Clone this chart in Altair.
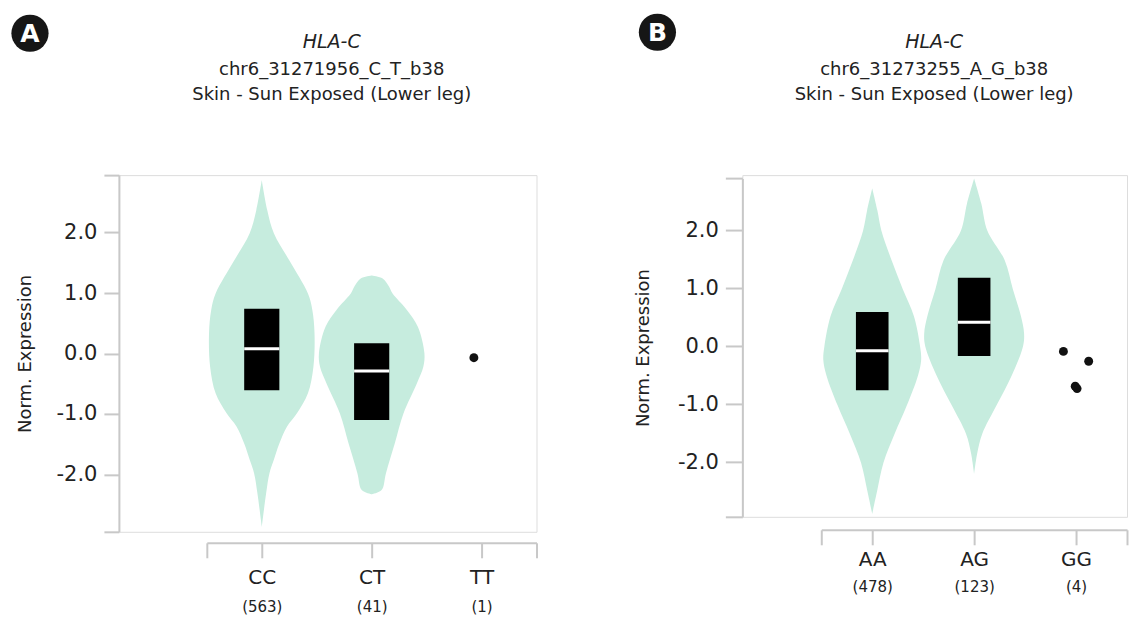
import json
import altair as alt
import pandas as pd

FONT = "DejaVu Sans"
GRAY = "#c8c8c8"
MINT = "#c6ecde"
INK = "#222222"
BOX_HALF = 0.16

gene = "HLA-C"
tissue = "Skin - Sun Exposed (Lower leg)"

# ---------------- Panel A ----------------
a_variant = "chr6_31271956_C_T_b38"
a_genotypes = ["CC", "CT", "TT"]
a_counts = ["(563)", "(41)", "(1)"]
# violin outlines: expression level and half-width (share of category step)
a_cc_level = [2.87, 2.37, 1.99, 1.54, 0.99, 0.72, 0.33, -0.22, -0.66, -0.99, -1.21, -1.49, -1.76, -1.98, -2.31, -2.87]
a_cc_half = [0.0, 0.05, 0.11, 0.25, 0.42, 0.46, 0.48, 0.47, 0.42, 0.32, 0.23, 0.16, 0.11, 0.07, 0.04, 0.0]
a_ct_level = [1.29, 1.24, 1.10, 0.99, 0.72, 0.44, 0.0, -0.22, -0.50, -0.99, -1.49, -1.98, -2.26, -2.33]
a_ct_half = [0.0, 0.10, 0.16, 0.19, 0.32, 0.42, 0.48, 0.47, 0.41, 0.29, 0.21, 0.13, 0.09, 0.0]
# box summaries (CC, CT)
a_box_geno = [0, 1]
a_q1 = [-0.61, -1.10]
a_median = [0.08, -0.29]
a_q3 = [0.74, 0.17]
# single samples (TT)
a_pt_geno = [2]
a_pt_jitter = [-0.07]
a_pt_value = [-0.07]

# ---------------- Panel B ----------------
b_variant = "chr6_31273255_A_G_b38"
b_genotypes = ["AA", "AG", "GG"]
b_counts = ["(478)", "(123)", "(4)"]
b_aa_level = [2.72, 2.34, 1.99, 1.48, 0.98, 0.51, -0.01, -0.24, -0.50, -1.02, -1.51, -2.01, -2.48, -2.89]
b_aa_half = [0.0, 0.05, 0.09, 0.19, 0.30, 0.41, 0.47, 0.48, 0.45, 0.34, 0.22, 0.11, 0.05, 0.0]
b_ag_level = [2.89, 2.46, 1.99, 1.48, 0.98, 0.51, 0.22, 0.0, -0.50, -1.02, -1.51, -1.85, -2.20]
b_ag_half = [0.0, 0.07, 0.13, 0.30, 0.38, 0.46, 0.49, 0.48, 0.37, 0.22, 0.08, 0.03, 0.0]
b_box_geno = [0, 1]
b_q1 = [-0.76, -0.17]
b_median = [-0.08, 0.41]
b_q3 = [0.59, 1.18]
b_pt_geno = [2, 2, 2, 2]
b_pt_jitter = [-0.124, 0.124, -0.008, 0.01]
b_pt_value = [-0.09, -0.26, -0.69, -0.73]


def violin_frame(profiles):
    rows = []
    for geno, levels, halves in profiles:
        for lv, hw in zip(levels, halves):
            rows.append({"geno": geno, "level": lv, "half": hw})
    return pd.DataFrame(rows)


def panel(letter, variant, genotypes, counts, profiles, box_geno, q1, med, q3,
          pt_geno, pt_jit, pt_val, width, height, x_range, y_range, y_domain, x_offset,
          geno_pad, count_pad, ytick, title_pad, badge_xy, title_x, title_y):
    xscale = alt.Scale(domain=[-0.5, 2.5], range=x_range, nice=False, zero=False)
    yscale = alt.Scale(domain=y_domain, range=y_range, nice=False, zero=False)

    geno_axis = alt.Axis(
        orient="bottom", values=[-0.5, 0, 1, 2, 2.5],
        labelExpr=f"{json.dumps(genotypes)}[datum.value] || ''",
        offset=x_offset, tickSize=15, tickWidth=2, tickColor=GRAY,
        domainColor=GRAY, domainWidth=2, labelFontSize=20, labelColor=INK,
        labelPadding=geno_pad, labelFlush=False, labelOverlap=False,
        grid=False, title=None)
    count_axis = alt.Axis(
        orient="bottom", values=[0, 1, 2],
        labelExpr=f"{json.dumps(counts)}[datum.value] || ''",
        offset=x_offset, domain=False, ticks=False, tickSize=0,
        labelFontSize=15, labelColor=INK, labelPadding=count_pad,
        labelFlush=False, labelOverlap=False, grid=False, title=None)
    y_axis = alt.Axis(
        orient="left",
        values=[y_domain[0], -2, -1, 0, 1, 2, y_domain[1]],
        labelExpr="abs(datum.value) > 2.5 ? '' : replace(format(datum.value, '.1f'), '\u2212', '-')",
        tickSize=ytick, tickWidth=2, tickColor=GRAY, domainColor=GRAY,
        domainWidth=2, labelFontSize=21, labelColor=INK, labelPadding=7,
        labelFlush=False, labelOverlap=False, grid=False,
        title="Norm. Expression", titleFontSize=18, titleFontWeight="normal",
        titleColor=INK, titlePadding=title_pad)

    vdf = violin_frame(profiles)
    violins = alt.Chart(vdf).transform_calculate(
        lo="datum.geno - datum.half", hi="datum.geno + datum.half"
    ).mark_area(orient="horizontal", interpolate="catmull-rom", color=MINT, opacity=1).encode(
        y=alt.Y("level:Q", scale=yscale, axis=y_axis),
        x=alt.X("lo:Q", scale=xscale, axis=geno_axis),
        x2="hi:Q",
        detail="geno:N",
    )

    bdf = pd.DataFrame({"geno": box_geno, "q1": q1, "med": med, "q3": q3})
    boxes = alt.Chart(bdf).transform_calculate(
        lo=f"datum.geno - {BOX_HALF}", hi=f"datum.geno + {BOX_HALF}"
    ).mark_rect(color="black").encode(
        x=alt.X("lo:Q", axis=None), x2="hi:Q",
        y=alt.Y("q1:Q", axis=y_axis), y2="q3:Q")
    medians = alt.Chart(bdf).transform_calculate(
        lo=f"datum.geno - {BOX_HALF}", hi=f"datum.geno + {BOX_HALF}"
    ).mark_rule(color="white", strokeWidth=3).encode(
        x=alt.X("lo:Q", axis=None), x2="hi:Q",
        y=alt.Y("med:Q", axis=y_axis))

    pdf = pd.DataFrame({"geno": pt_geno, "jit": pt_jit, "value": pt_val})
    points = alt.Chart(pdf).transform_calculate(
        xp="datum.geno + datum.jit"
    ).mark_circle(size=80, color="#111111", opacity=1).encode(
        x=alt.X("xp:Q", axis=count_axis),
        y=alt.Y("value:Q", axis=y_axis))

    badge_df = pd.DataFrame({"letter": [letter]})
    badge = alt.Chart(badge_df).mark_circle(size=1385, color="#161616", opacity=1).encode(
        x=alt.value(badge_xy[0]), y=alt.value(badge_xy[1]))
    badge_txt = alt.Chart(badge_df).mark_text(
        fontSize=25, fontWeight="bold", color="white", align="center", baseline="middle",
        font=FONT).encode(x=alt.value(badge_xy[0]), y=alt.value(badge_xy[1] + 1), text="letter:N")

    t1 = alt.Chart(pd.DataFrame({"t": [gene]})).mark_text(
        fontSize=19, fontStyle="italic", color=INK, align="center", baseline="alphabetic",
        font=FONT).encode(x=alt.value(title_x), y=alt.value(title_y[0]), text="t:N")
    t2 = alt.Chart(pd.DataFrame({"t": [variant]})).mark_text(
        fontSize=18, color=INK, align="center", baseline="alphabetic",
        font=FONT).encode(x=alt.value(title_x), y=alt.value(title_y[1]), text="t:N")
    t3 = alt.Chart(pd.DataFrame({"t": [tissue]})).mark_text(
        fontSize=18, color=INK, align="center", baseline="alphabetic",
        font=FONT).encode(x=alt.value(title_x), y=alt.value(title_y[2]), text="t:N")

    return alt.layer(violins, boxes, medians, points, badge, badge_txt, t1, t2, t3).resolve_axis(
        x="independent").properties(width=width, height=height)


panel_a = panel(
    "A", a_variant, a_genotypes, a_counts,
    [(0, a_cc_level, a_cc_half), (1, a_ct_level, a_ct_half)],
    a_box_geno, a_q1, a_median, a_q3, a_pt_geno, a_pt_jitter, a_pt_value,
    width=418, height=357, x_range=[88, 418], y_range=[357, 0], y_domain=[-2.95, 2.95],
    x_offset=11, geno_pad=10, count_pad=57, ytick=15, title_pad=22,
    badge_xy=(-89, -142), title_x=213, title_y=(-127, -100, -75))

panel_b = panel(
    "B", b_variant, b_genotypes, b_counts,
    [(0, b_aa_level, b_aa_half), (1, b_ag_level, b_ag_half)],
    b_box_geno, b_q1, b_median, b_q3, b_pt_geno, b_pt_jitter, b_pt_value,
    width=385, height=342, x_range=[79, 385], y_range=[342, 3.3], y_domain=[-2.94, 2.89],
    x_offset=13, geno_pad=5, count_pad=50, ytick=17, title_pad=25,
    badge_xy=(-85, -143), title_x=192, title_y=(-127, -100, -75))

chart = alt.hconcat(panel_a, panel_b, spacing=95).properties(
    padding={"left": 2, "top": 4, "right": 0, "bottom": 0},
    background="white",
).configure_view(stroke="transparent", strokeWidth=0).configure(font=FONT)

chart.save("out.html", embed_options={"renderer": "svg", "actions": False})
